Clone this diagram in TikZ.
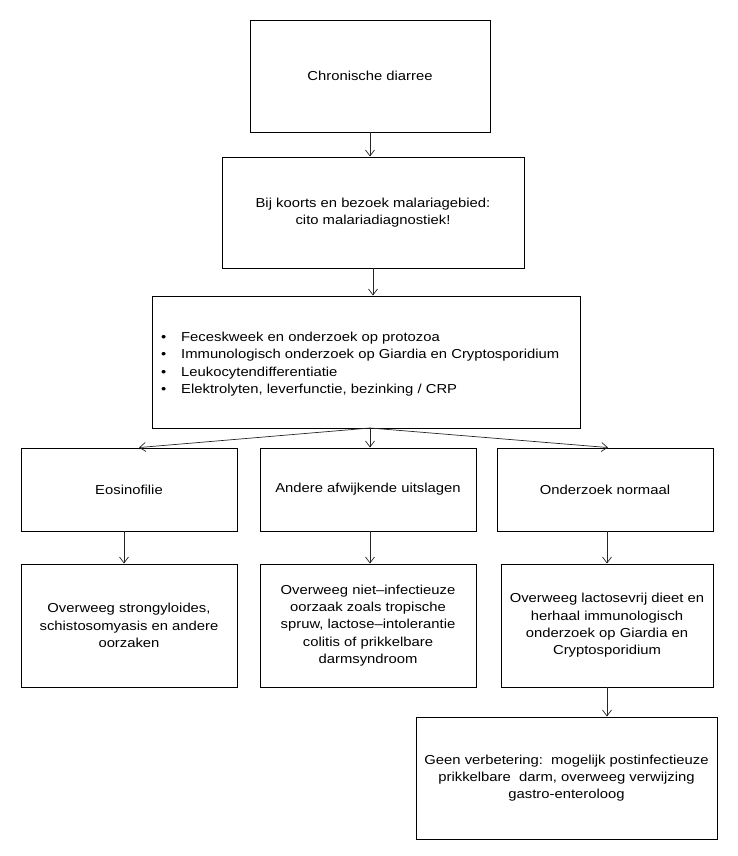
\documentclass[tikz,border=0pt]{standalone}
\usepackage{fontspec}
\setmainfont[FakeStretch=1.14]{Liberation Sans}
\usetikzlibrary{arrows.meta}
\newcommand{\blt}{\hbox to 29pt{\hspace{9pt}\textbullet\hfil}}
\begin{document}
\begin{tikzpicture}[x=1pt,y=-1pt,
  box/.style={draw=black, line width=0.9pt, inner sep=0pt, align=center, font=\fontsize{13}{17.3}\selectfont},
  arr/.style={draw=black!85, line width=0.7pt, -{Straight Barb[length=6pt,width=9pt,line width=0.7pt]}}]
\useasboundingbox (0,0) rectangle (738,856);
\node[box, minimum width=240, minimum height=112] (A) at (370,76) {Chronische diarree};
\node[box, minimum width=302, minimum height=111] (B) at (373,212.5) {Bij koorts en bezoek malariagebied:\\cito malariadiagnostiek!};
\node[box, minimum width=428, minimum height=132] (C) at (366,362) {};
\node[font=\fontsize{13}{17.5}\selectfont, align=left, anchor=west, inner sep=0pt] (Ct) at (152,364) {%
\blt Feceskweek en onderzoek op protozoa\\
\blt Immunologisch onderzoek op Giardia en Cryptosporidium\\
\blt Leukocytendifferentiatie\\
\blt Elektrolyten, leverfunctie, bezinking / CRP};
\node[box, minimum width=216, minimum height=83] (D1) at (129,489.5) {Eosinofilie};
\node[box, minimum width=216, minimum height=83] (D2) at (368,489.5) {Andere afwijkende uitslagen};
\node[box, minimum width=216, minimum height=83] (D3) at (605,489.5) {Onderzoek normaal};
\node[box, minimum width=216, minimum height=123] (E1) at (129,625.5) {Overweeg strongyloides,\\schistosomyasis en andere\\oorzaken};
\node[box, minimum width=216, minimum height=123] (E2) at (368,625.5) {Overweeg niet--infectieuze\\oorzaak zoals tropische\\spruw, lactose--intolerantie\\colitis of prikkelbare\\darmsyndroom};
\node[box, minimum width=212, minimum height=123] (E3) at (607,625.5) {Overweeg lactosevrij dieet en\\herhaal immunologisch\\onderzoek op Giardia en\\Cryptosporidium};
\node[box, minimum width=301, minimum height=122] (F) at (566.5,778) {Geen verbetering:\ \ mogelijk postinfectieuze\\prikkelbare\ \ darm, overweeg verwijzing\\gastro-enteroloog};
\draw[arr] (A.south) -- (B.north -| A.south);
\draw[arr] (B.south) -- (C.north -| B.south);
\coordinate (Cb) at (370,428);
\draw[arr] (Cb) -- ([xshift=10pt]D1.north);
\draw[arr] (Cb) -- (D2.north -| Cb);
\draw[arr] (Cb) -- ([xshift=3pt]D3.north);
\draw[arr] ([xshift=-5pt]D1.south) -- ([xshift=-5pt]D1.south |- E1.north);
\draw[arr] ([xshift=2pt]D2.south) -- ([xshift=2pt]D2.south |- E2.north);
\draw[arr] ([xshift=2pt]D3.south) -- ([xshift=2pt]D3.south |- E3.north);
\draw[arr] (E3.south) -- (E3.south |- F.north);
\end{tikzpicture}
\end{document}
